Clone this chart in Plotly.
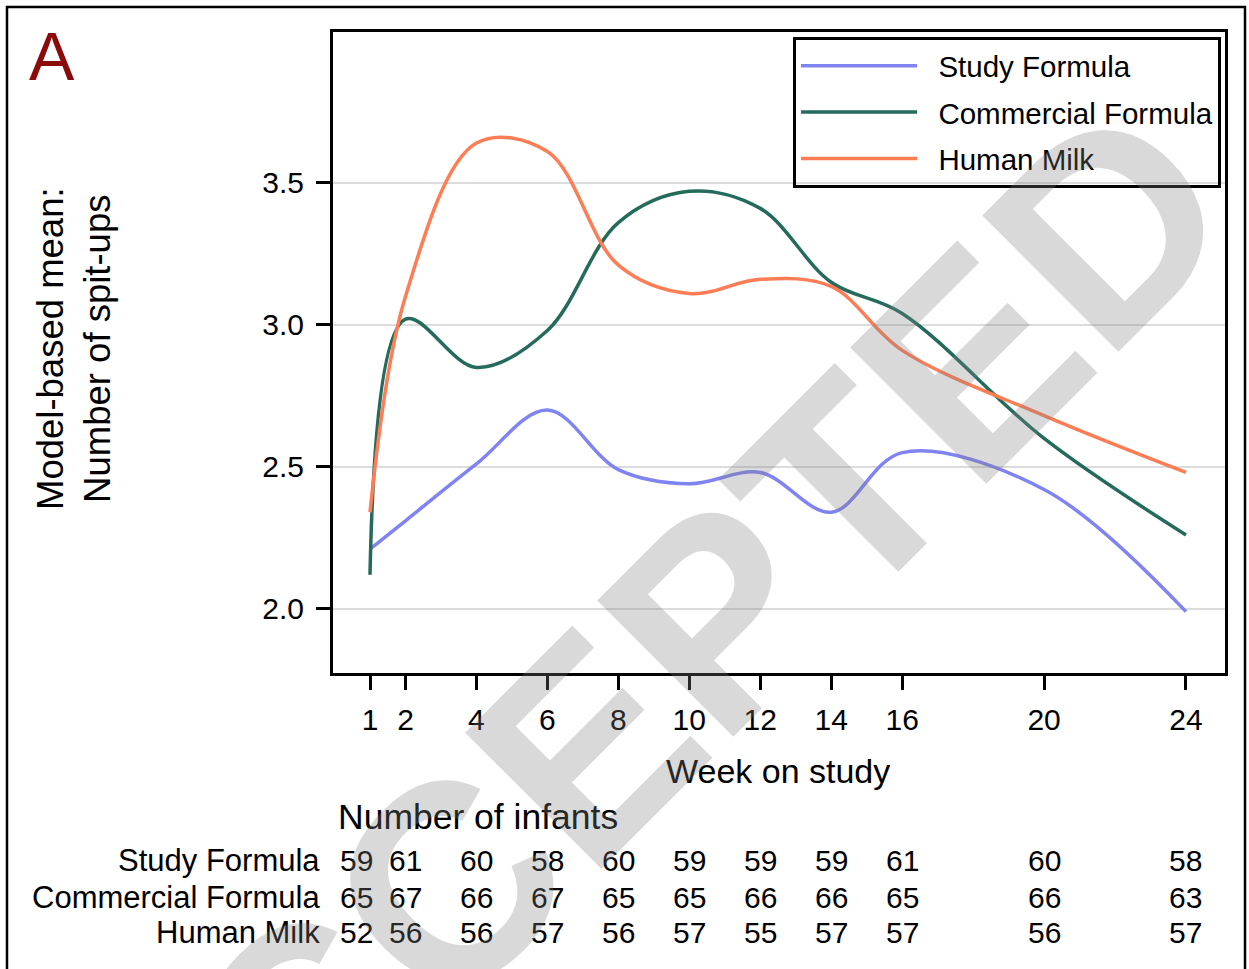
import plotly.graph_objects as go

# ---------------- data ----------------
weeks = [1, 2, 4, 6, 8, 10, 12, 14, 16, 20, 24]
study_formula = [2.21, 2.31, 2.51, 2.70, 2.49, 2.44, 2.48, 2.34, 2.55, 2.42, 1.99]
commercial_formula = [2.12, 3.02, 2.85, 2.98, 3.36, 3.47, 3.41, 3.15, 3.04, 2.60, 2.26]
human_milk = [2.34, 3.10, 3.64, 3.61, 3.21, 3.11, 3.16, 3.135, 2.91, 2.68, 2.48]

n_study = [59, 61, 60, 58, 60, 59, 59, 59, 61, 60, 58]
n_commercial = [65, 67, 66, 67, 65, 65, 66, 66, 65, 66, 63]
n_human = [52, 56, 56, 57, 56, 57, 55, 57, 57, 56, 57]

series_names = ["Study Formula", "Commercial Formula", "Human Milk"]
y_ticks = [2.0, 2.5, 3.0, 3.5]

# ---------------- layout geometry (page pixels) ----------------
W, H = 1249, 969
L, R, T, B = 333, 1225, 32, 673  # inner plot-area edges
FONT = "Liberation Sans, Arial, sans-serif"


def px(xp):
    return (xp - L) / (R - L)


def py(yp):
    return (B - yp) / (B - T)


colors = ["#8083F2", "#256B5B", "#FF7D55"]
values = [study_formula, commercial_formula, human_milk]
NB = "\u00a0\u00a0"

fig = go.Figure()
for i, (name, vals, col) in enumerate(zip(series_names, values, colors)):
    fig.add_trace(go.Scatter(
        x=weeks, y=vals, mode="lines", name=NB + name,
        line=dict(color=col, width=3.5, shape="spline", smoothing=1.0),
        legendgroup=f"g{i}",
    ))

annotations = []

# panel letter
annotations.append(dict(text="A", x=px(52), y=py(56), xref="paper", yref="paper",
                        showarrow=False, xanchor="center", yanchor="middle",
                        font=dict(family=FONT, size=68, color="#8B0A0A")))

# y title
annotations.append(dict(text="Model-based mean:<br>Number of spit-ups",
                        x=px(74), y=py(349), xref="paper", yref="paper",
                        showarrow=False, textangle=-90, xanchor="center", yanchor="middle",
                        font=dict(family=FONT, size=36.5, color="black")))

# x title
annotations.append(dict(text="Week on study", x=px(778), y=py(771), xref="paper", yref="paper",
                        showarrow=False, xanchor="center", yanchor="middle",
                        font=dict(family=FONT, size=34, color="black")))

# table title
annotations.append(dict(text="Number of infants", x=px(336), y=py(817), xref="paper", yref="paper",
                        showarrow=False, xanchor="left", yanchor="middle",
                        font=dict(family=FONT, size=35.5, color="black")))

row_y = [860, 897, 933]
counts = [n_study, n_commercial, n_human]
for name, ry, cnt in zip(series_names, row_y, counts):
    annotations.append(dict(text=name, x=px(322), y=py(ry), xref="paper", yref="paper",
                            showarrow=False, xanchor="right", yanchor="middle",
                            font=dict(family=FONT, size=31, color="black")))
    for j, (wk, n) in enumerate(zip(weeks, cnt)):
        annotations.append(dict(text=str(n), x=wk, y=py(ry), xref="x", yref="paper",
                                showarrow=False, xanchor="center", yanchor="middle",
                                xshift=-14 if j == 0 else 0,
                                font=dict(family=FONT, size=30, color="black")))

# watermark
annotations.append(dict(text="<b>ACCEPTED</b>", x=px(635), y=py(698), xref="paper", yref="paper",
                        showarrow=False, textangle=-45, xanchor="center", yanchor="middle",
                        font=dict(family=FONT, size=280, color="rgba(128,128,128,0.3)")))

shapes = [
    dict(type="rect", xref="paper", yref="paper",
         x0=px(7), x1=px(1245), y0=py(1010), y1=py(7),
         line=dict(color="black", width=2.5), fillcolor="rgba(0,0,0,0)", layer="below"),
]

fig.update_layout(
    width=W, height=H,
    margin=dict(l=L, r=W - R, t=T, b=H - B, pad=0),
    paper_bgcolor="white", plot_bgcolor="white",
    font=dict(family=FONT, size=30, color="black"),
    showlegend=True,
    legend=dict(
        x=px(793), y=py(37), xanchor="left", yanchor="top",
        bordercolor="black", borderwidth=3, bgcolor="rgba(0,0,0,0)",
        font=dict(family=FONT, size=29.5, color="black"),
        itemwidth=116, tracegroupgap=5, traceorder="grouped",
    ),
    xaxis=dict(
        range=[-0.043, 25.1], tickmode="array", tickvals=weeks,
        ticktext=[str(w) for w in weeks],
        showgrid=False, zeroline=False,
        showline=True, mirror=True, linecolor="black", linewidth=3,
        ticks="outside", ticklen=14, tickwidth=3, tickcolor="black",
        ticklabelstandoff=4,
        tickfont=dict(family=FONT, size=30, color="black"),
    ),
    yaxis=dict(
        range=[1.774, 4.031], tickmode="array", tickvals=y_ticks,
        ticktext=[f"{v:.1f}" for v in y_ticks],
        showgrid=True, gridcolor="#DCDCDC", gridwidth=2, zeroline=False,
        showline=True, mirror=True, linecolor="black", linewidth=3,
        ticks="outside", ticklen=14, tickwidth=3, tickcolor="black",
        ticklabelstandoff=6,
        tickfont=dict(family=FONT, size=30, color="black"),
    ),
    annotations=annotations,
    shapes=shapes,
)

fig.write_html("out.html", config={"displayModeBar": False},
               post_script="document.body.style.margin='0px';")
